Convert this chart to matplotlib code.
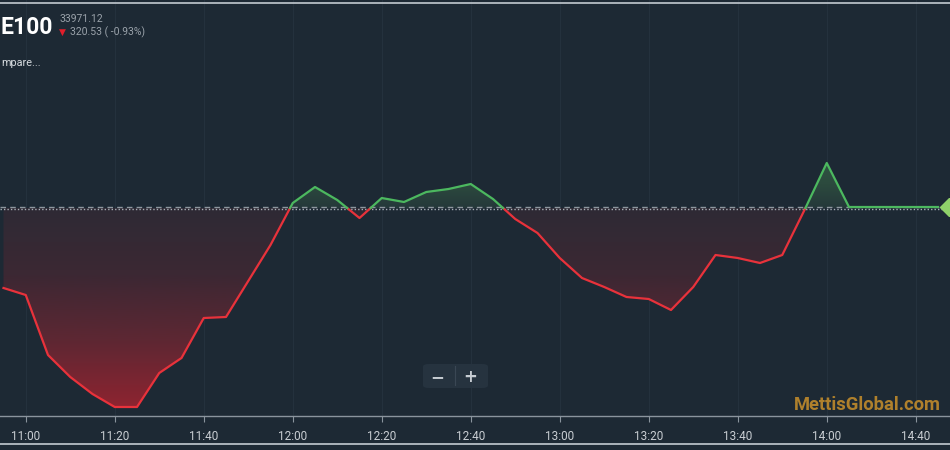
import numpy as np
import matplotlib
matplotlib.use("Agg")
import matplotlib.pyplot as plt
from matplotlib.patches import FancyBboxPatch, PathPatch
from matplotlib.path import Path
from matplotlib.colors import LinearSegmentedColormap

# ---- data (5-minute steps, index based x) ----
values = [34130, 34116, 33996, 33952, 33918, 33892, 33892, 33960, 33990, 34070,
          34072, 34144, 34216, 34300, 34332, 34306, 34270, 34310, 34302, 34322,
          34328, 34338, 34308, 34268, 34240, 34190, 34150, 34132, 34112, 34108,
          34086, 34132, 34196, 34190, 34180, 34196, 34286, 34380, 34292, 34292,
          34292, 34292, 34292]
baseline = 34290
tick_idx = [1, 5, 9, 13, 17, 21, 25, 29, 33, 37, 41]
tick_labels = ["11:00", "11:20", "11:40", "12:00", "12:20", "12:40",
               "13:00", "13:20", "13:40", "14:00", "14:40"]
symbol = "E100"
last_price = "33971.12"
change_text = "320.53 ( -0.93%)"
compare_text = "mpare..."

BG = "#1d2934"
RED = "#e8323b"
GREEN = "#4cb85f"

W, H = 950, 450
fig = plt.figure(figsize=(W / 100, H / 100), dpi=100, facecolor=BG)
ax_bottom_px = 416
ax = fig.add_axes([0, (H - ax_bottom_px) / H, 1, ax_bottom_px / H])
ax.set_facecolor(BG)

y = np.array(values, dtype=float)
x = np.arange(len(y), dtype=float)
ppx = 22.25
ax.set_xlim(-3.5 / ppx, (W - 3.5) / ppx)
ax.set_ylim(baseline - 2 * (ax_bottom_px - 208), baseline + 2 * 208)

# faint vertical grid
for t in tick_idx:
    ax.axvline(t, color="#24313d", lw=0.8, zorder=0)

# insert crossings
xs, ys = [x[0]], [y[0]]
for i in range(len(y) - 1):
    if (y[i] - baseline) * (y[i + 1] - baseline) < 0:
        tt = (baseline - y[i]) / (y[i + 1] - y[i])
        xs.append(x[i] + tt * (x[i + 1] - x[i]))
        ys.append(baseline)
    xs.append(x[i + 1])
    ys.append(y[i + 1])
xs = np.array(xs)
ys = np.array(ys)

grad = np.linspace(0, 1, 256).reshape(-1, 1)

# red gradient fill
red_coll = ax.fill_between(xs, ys, baseline, where=ys <= baseline, color="none", lw=0)
paths = red_coll.get_paths()
cmap_r = LinearSegmentedColormap.from_list("r", ["#8e2430", "#5e2733", "#3c2833", "#2e2a35"])
if paths:
    cp = Path.make_compound_path(*paths)
    im = ax.imshow(grad, cmap=cmap_r, aspect="auto", origin="lower",
                   extent=[ax.get_xlim()[0], ax.get_xlim()[1], 33890, baseline],
                   zorder=1, interpolation="bicubic")
    im.set_clip_path(PathPatch(cp, transform=ax.transData, fc="none", ec="none"))

# green fill
green_coll = ax.fill_between(xs, ys, baseline, where=ys >= baseline, color="none", lw=0)
gpaths = green_coll.get_paths()
cmap_g = LinearSegmentedColormap.from_list("g", ["#25383a", "#2c4a3e", "#2f5442"])
if gpaths:
    gp = Path.make_compound_path(*gpaths)
    im2 = ax.imshow(grad, cmap=cmap_g, aspect="auto", origin="lower",
                    extent=[ax.get_xlim()[0], ax.get_xlim()[1], baseline, 34385],
                    zorder=1, interpolation="bicubic")
    im2.set_clip_path(PathPatch(gp, transform=ax.transData, fc="none", ec="none"))

# baseline lines
ax.axhline(baseline + 3, color="#8d969e", lw=1.0, ls=(0, (4, 3)), zorder=2)
ax.axhline(baseline - 2, color="#a7afb6", lw=1.0, ls=(0, (1, 1.5)), zorder=2)

# price line
ys_r = np.where(ys <= baseline, ys, np.nan)
ys_g = np.where(ys >= baseline, ys, np.nan)
ax.plot(xs, ys_r, color=RED, lw=1.6, zorder=3, solid_joinstyle="round")
ax.plot(xs, ys_g, color=GREEN, lw=1.6, zorder=3, solid_joinstyle="round")
ax.plot([ax.get_xlim()[1] - 0.05], [y[-1]], marker="D", ms=9, color="#8fd16a",
        clip_on=False, zorder=4)

# axis
for s in ["top", "left", "right"]:
    ax.spines[s].set_visible(False)
ax.spines["bottom"].set_color("#8a949d")
ax.spines["bottom"].set_linewidth(1.0)
ax.set_yticks([])
ax.set_xticks(tick_idx)
ax.set_xticklabels(tick_labels, fontsize=8.5, color="#c9ced3", family="Roboto")
ax.tick_params(axis="x", length=4, width=0.8, color="#8a949d", pad=6, direction="out")

# frame lines at top / bottom of screenshot
fig.add_artist(plt.Line2D([0, 1], [1 - 2.5 / H, 1 - 2.5 / H], color="#c3cad1", lw=1.2))
fig.add_artist(plt.Line2D([0, 1], [1 - 444 / H, 1 - 444 / H], color="#c3cad1", lw=1.2))

# header texts
fig.text(1 / W, 1 - 27 / H, symbol, ha="left", va="center", color="white",
         fontsize=16.5, fontweight="bold", family="Roboto")
fig.text(60 / W, 1 - 19 / H, last_price, ha="left", va="center", color="#9aa2aa",
         fontsize=7.5, family="Roboto")
fig.text(59 / W, 1 - 32 / H, "▼", ha="left", va="center", color="#e01e2b",
         fontsize=6.5, family="DejaVu Sans")
fig.text(70 / W, 1 - 32 / H, change_text, ha="left", va="center", color="#9aa2aa",
         fontsize=7.5, family="Roboto")
fig.text(1 / W, 1 - 63 / H, compare_text, ha="left", va="center", color="#d5dade",
         fontsize=7.8, family="Roboto")

# zoom buttons
box = FancyBboxPatch((423 / W, 1 - 388 / H), 65 / W, 24 / H,
                     boxstyle="round,pad=0,rounding_size=0.006",
                     transform=fig.transFigure, fc="#26333f", ec="none", zorder=5)
fig.add_artist(box)
fig.add_artist(plt.Line2D([455 / W, 455 / W], [1 - 385 / H, 1 - 366 / H],
                          color="#3a4754", lw=0.8, zorder=6))
fig.text(437 / W, 1 - 377 / H, "−", ha="center", va="center", color="#c6ccd2",
         fontsize=12, fontweight="bold", family="DejaVu Sans", zorder=7)
fig.text(470 / W, 1 - 377 / H, "+", ha="center", va="center", color="#c6ccd2",
         fontsize=12, fontweight="bold", family="DejaVu Sans", zorder=7)

# watermark
fig.text(867 / W, 1 - 405 / H, "MettisGlobal.com", ha="center", va="center",
         color="#b8862c", fontsize=13.2, fontweight="bold", family="Roboto", alpha=0.95)

fig.savefig("out.png", dpi=100, facecolor=BG)
